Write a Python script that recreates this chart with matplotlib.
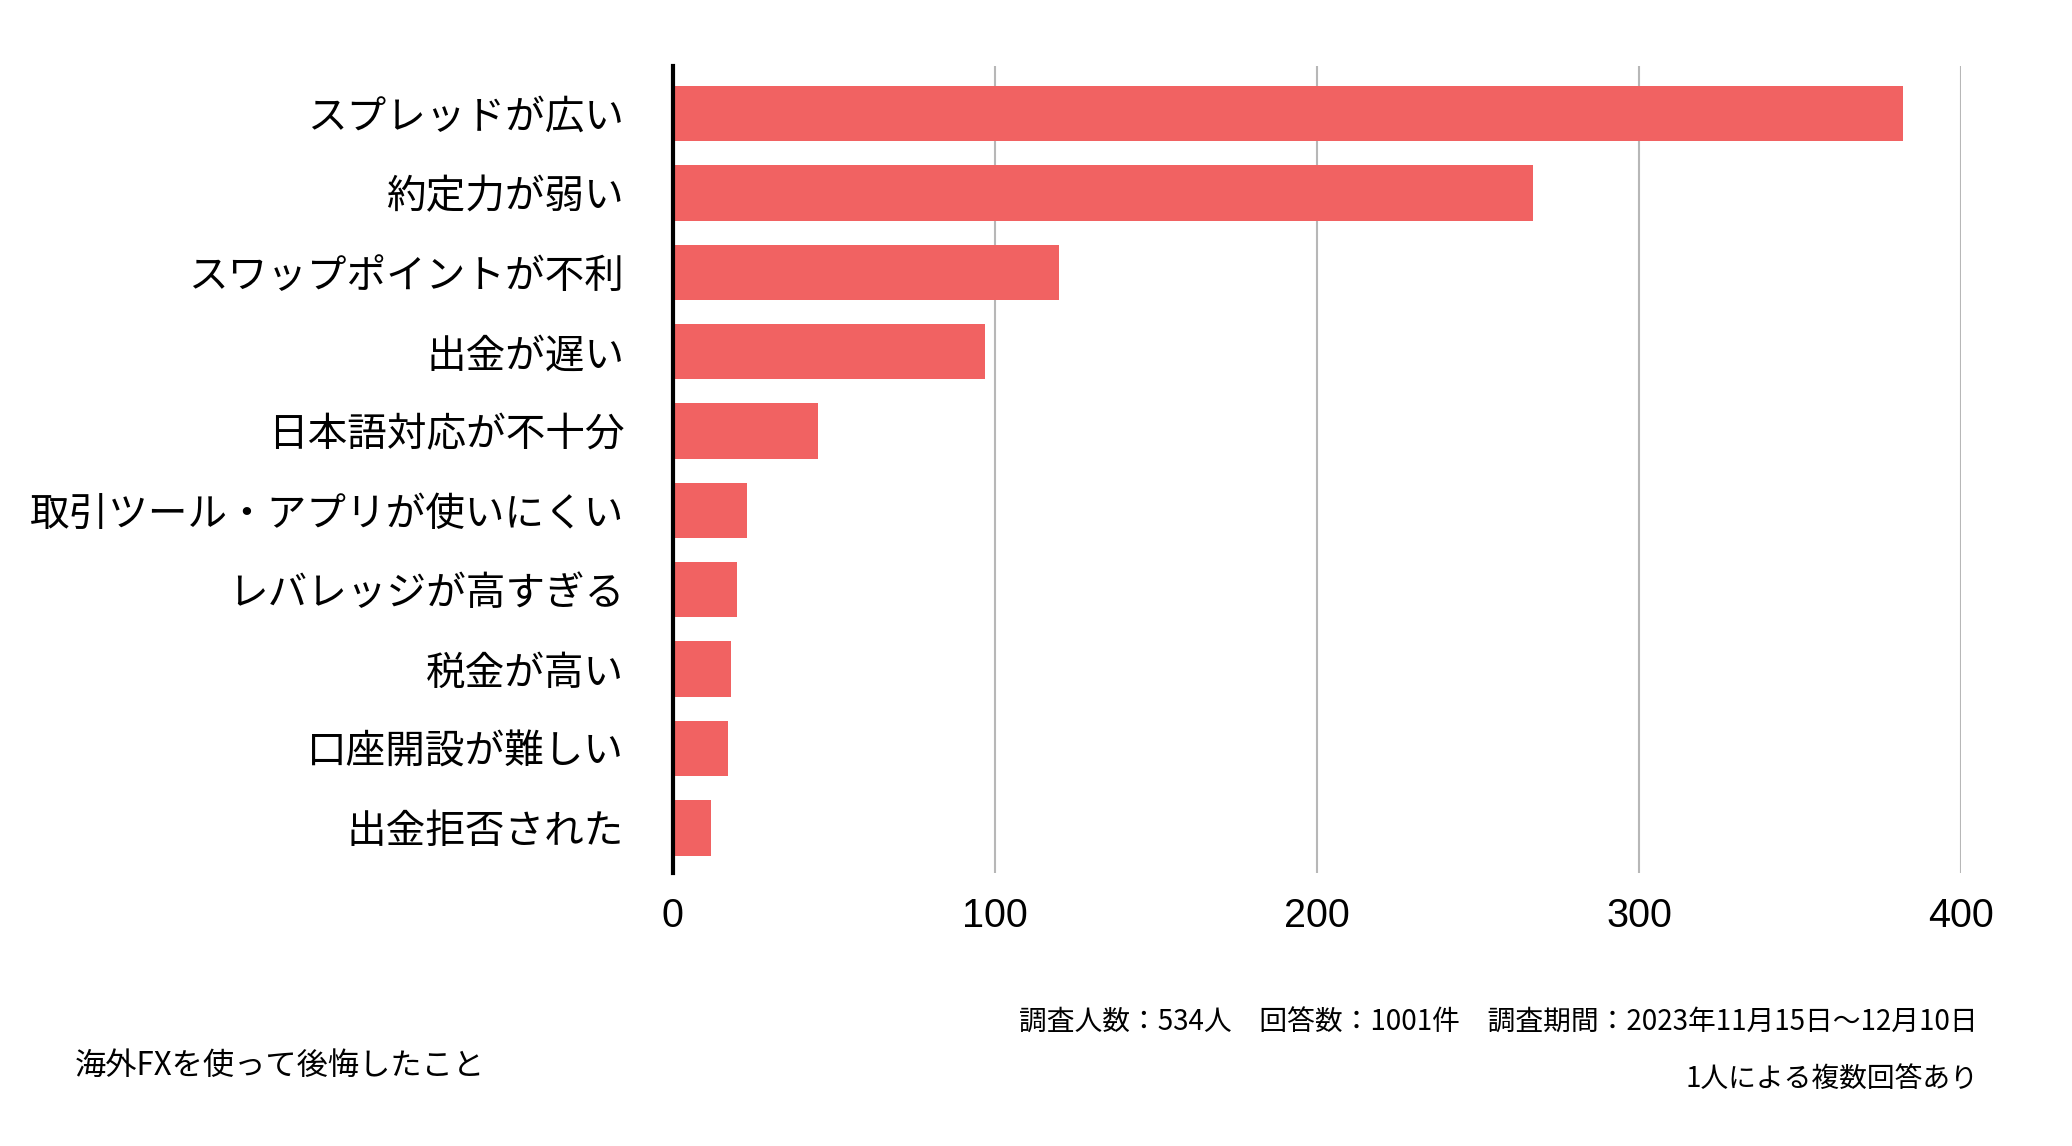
import matplotlib
matplotlib.use('Agg')
import matplotlib.pyplot as plt

plt.rcParams['font.family'] = ['Noto Sans CJK JP', 'DejaVu Sans']

categories = ['スプレッドが広い', '約定力が弱い', 'スワップポイントが不利', '出金が遅い',
              '日本語対応が不十分', '取引ツール・アプリが使いにくい', 'レバレッジが高すぎる',
              '税金が高い', '口座開設が難しい', '出金拒否された']
counts = [382, 267, 120, 97, 45, 23, 20, 18, 17, 12]
xticks = [0, 100, 200, 300, 400]

bar_color = '#f16262'

fig = plt.figure(figsize=(20.72, 11.46), dpi=100)
ax = fig.add_axes([0.3247, 1 - 873 / 1146, 0.9465 - 0.3247, (873 - 66) / 1146])

pos = list(range(len(categories)))
ax.barh(pos, counts, height=0.7, color=bar_color, zorder=2)
ax.set_ylim(9.57, -0.6)
ax.set_xlim(0, 400)
ax.set_yticks(pos)
ax.set_yticklabels(categories, fontsize=28.5)
ax.set_xticks(xticks)
ax.set_xticklabels([str(t) for t in xticks], fontsize=28.5, family=['Liberation Sans', 'DejaVu Sans'])
ax.tick_params(axis='y', length=0, pad=35)
ax.tick_params(axis='x', length=0, pad=17)

ax.grid(axis='x', color='#b7b7b7', linewidth=1.5, zorder=0)
for s in ['top', 'right', 'bottom']:
    ax.spines[s].set_visible(False)
ax.spines['left'].set_linewidth(3)
ax.spines['left'].set_color('black')
ax.spines['left'].set_zorder(3)

# footnotes
fig.text(1978 / 2072, 1 - 1023 / 1146,
         '調査人数：534人　回答数：1001件　調査期間：2023年11月15日〜12月10日',
         ha='right', va='center', fontsize=20)
fig.text(1978 / 2072, 1 - 1079 / 1146, '1人による複数回答あり',
         ha='right', va='center', fontsize=20)
fig.text(75 / 2072, 1 - 1066 / 1146, '海外FXを使って後悔したこと',
         ha='left', va='center', fontsize=22.5)

fig.savefig('out.png', dpi=100, facecolor='white')
